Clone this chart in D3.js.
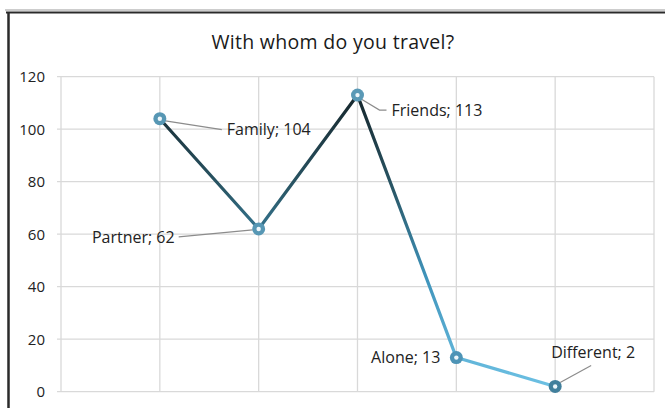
<!DOCTYPE html>
<html><head><meta charset="utf-8">
<script src="https://cdn.jsdelivr.net/npm/d3@7"></script>
<style>html,body{margin:0;padding:0;background:#fff;}svg{display:block;}</style>
</head><body>
<svg id="c" width="665" height="408"></svg>
<script>
const categories = ["Family", "Partner", "Friends", "Alone", "Different"];
const values = [104, 62, 113, 13, 2];
const yTicks = [0, 20, 40, 60, 80, 100, 120];
const title = "With whom do you travel?";

const W = 665, H = 408;
const svg = d3.select("#c");
const font = "'Open Sans', sans-serif";

// frame
svg.append("line").attr("x1", 5).attr("x2", 665).attr("y1", 10).attr("y2", 10).attr("stroke", "#9a9a9a").attr("stroke-width", 1);
svg.append("line").attr("x1", 6).attr("x2", 665).attr("y1", 12.5).attr("y2", 12.5).attr("stroke", "#2a2a2a").attr("stroke-width", 2);
svg.append("line").attr("x1", 8.5).attr("x2", 8.5).attr("y1", 12).attr("y2", H).attr("stroke", "#2a2a2a").attr("stroke-width", 2.5);

const x = d3.scaleLinear().domain([0, 6]).range([61, 654]);
const y = d3.scaleLinear().domain([0, 120]).range([391.7, 76.7]);

// grid
const g = svg.append("g");
g.selectAll("line.h").data(yTicks).join("line")
  .attr("x1", 57).attr("x2", x(6)).attr("y1", d => y(d)).attr("y2", d => y(d))
  .attr("stroke", "#d9d9d9").attr("stroke-width", 1.3);
g.selectAll("line.v").data(d3.range(0, 7)).join("line")
  .attr("x1", d => x(d)).attr("x2", d => x(d)).attr("y1", y(120)).attr("y2", y(0))
  .attr("stroke", "#d9d9d9").attr("stroke-width", 1.3);

// y axis labels
const yAxis = d3.axisLeft(y).tickValues(yTicks).tickSize(0).tickPadding(16);
const ya = svg.append("g").attr("transform", `translate(${x(0)},0)`).call(yAxis);
ya.select(".domain").remove();
ya.selectAll("text").attr("font-family", font).attr("font-size", 15).attr("font-weight", 500).attr("fill", "#222");

// title
svg.append("text").attr("x", 333).attr("y", 49).attr("text-anchor", "middle")
  .attr("font-family", font).attr("font-size", 19.5).attr("font-weight", 500).attr("letter-spacing", 0.3).attr("fill", "#1a1a1a").text(title);

// gradient line
const defs = svg.append("defs");
const grad = defs.append("linearGradient").attr("id", "lg").attr("gradientUnits", "userSpaceOnUse")
  .attr("x1", 0).attr("x2", 0).attr("y1", y(113)).attr("y2", y(2));
grad.append("stop").attr("offset", 0).attr("stop-color", "#16262c");
grad.append("stop").attr("offset", 0.33).attr("stop-color", "#2a5868");
grad.append("stop").attr("offset", 0.62).attr("stop-color", "#3f93ba");
grad.append("stop").attr("offset", 1).attr("stop-color", "#6cc0e3");

const pts = values.map((v, i) => [x(i + 1), y(v)]);
svg.append("path").datum(values)
  .attr("d", d3.line().x((d, i) => x(i + 1)).y(d => y(d)))
  .attr("fill", "none").attr("stroke", "url(#lg)").attr("stroke-width", 3.2).attr("stroke-linejoin", "round");

// leader lines (layout offsets in px relative to point)
const leaders = [
  [[4, 2], [62, 11]],
  [[-6, 1], [-80, 8]],
  [[2, 3], [22, 15], [29, 15]],
  null,
  [[5, -4], [36, -21]]
];
leaders.forEach((l, i) => {
  if (!l) return;
  const [px, py] = pts[i];
  svg.append("polyline").attr("points", l.map(o => `${px + o[0]},${py + o[1]}`).join(" "))
    .attr("fill", "none").attr("stroke", "#8c8c8c").attr("stroke-width", 1.2);
});

// markers
const markerFill = ["#5797b4", "#5797b4", "#5a99b6", "#4e94b6", "#417f9c"];
svg.selectAll("circle.m").data(values).join("circle")
  .attr("cx", (d, i) => x(i + 1)).attr("cy", d => y(d)).attr("r", 6.5)
  .attr("fill", (d, i) => markerFill[i]);
svg.selectAll("circle.c").data(values).join("circle")
  .attr("cx", (d, i) => x(i + 1)).attr("cy", d => y(d)).attr("r", 2.2)
  .attr("fill", "#eef6fa");

// data labels
const labelOff = [[67, 16, "start"], [-84, 14, "end"], [34, 21, "start"], [-16, 5, "end"], [-4, -28, "start"]];
svg.selectAll("text.lab").data(values).join("text")
  .attr("x", (d, i) => x(i + 1) + labelOff[i][0])
  .attr("y", (d, i) => y(d) + labelOff[i][1])
  .attr("text-anchor", (d, i) => labelOff[i][2])
  .attr("font-family", font).attr("font-size", 16).attr("font-weight", 500).attr("fill", "#222")
  .text((d, i) => `${categories[i]}; ${d}`);
</script>
</body></html>
